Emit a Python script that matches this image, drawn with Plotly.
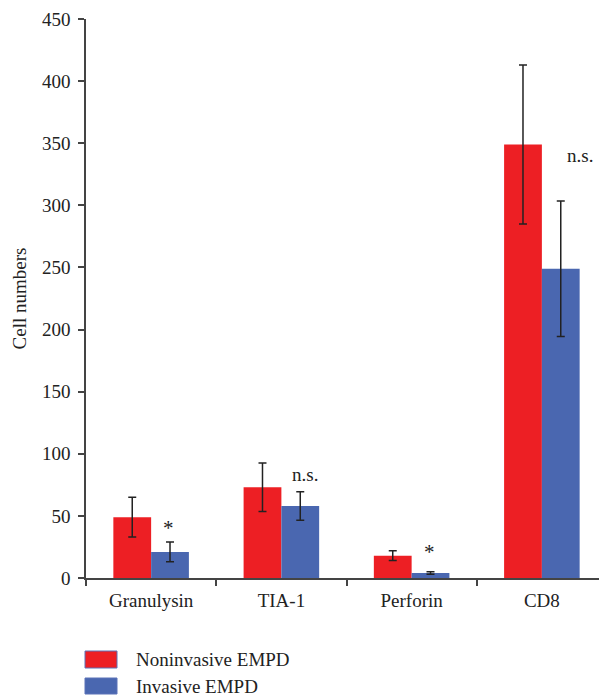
import plotly.graph_objects as go

categories = ["Granulysin", "TIA-1", "Perforin", "CD8"]
noninvasive = [49, 73, 18, 349]
noninvasive_err = [16, 19.5, 4, 64]
invasive = [21, 58, 4, 249]
invasive_err = [8, 11.5, 1, 54.5]
significance = ["*", "n.s.", "*", "n.s."]
sig_y = [40, 83, 21, 340]
series_names = ["Noninvasive EMPD", "Invasive EMPD"]
colors = ["#ED1F24", "#4A67B0"]

sig_xshift = [17, 24, 18, 38]  # label offsets in pixels (style)

OFF = 8  # page body margin in the browser
W, H = 607 - OFF, 696 - OFF
L, R, T, B = 86 - OFF, 0, 19 - OFF, 118
pw, ph = W - L - R, H - T - B
FONT = "Liberation Serif"
fs = 19

fig = go.Figure()
for name, vals, errs, col in [(series_names[0], noninvasive, noninvasive_err, colors[0]),
                              (series_names[1], invasive, invasive_err, colors[1])]:
    fig.add_trace(go.Bar(
        x=categories, y=vals, name=name, marker=dict(color=col, line=dict(width=0)),
        error_y=dict(type="data", array=errs, visible=True, color="#222222", thickness=1.5, width=4),
        showlegend=False,
    ))

for c, s, yv, xs in zip(categories, significance, sig_y, sig_xshift):
    fig.add_annotation(x=c, y=yv, text=s, showarrow=False, xshift=xs,
                       font=dict(family=FONT, size=fs + (2 if s == "*" else 0), color="#222222"))

# legend drawn as swatches + text (pixel positions relative to the reference page)
def px_x(px):
    return (px - OFF - L) / pw

def px_y(py):
    return (H - B - (py - OFF)) / ph

legend_rows = [(651, 668), (678, 694)]
for (y0, y1), name, col in zip(legend_rows, series_names, colors):
    fig.add_shape(type="rect", xref="paper", yref="paper",
                  x0=px_x(85), x1=px_x(117), y0=px_y(y1), y1=px_y(y0),
                  fillcolor=col, line=dict(color="#5A72B8", width=1))
    fig.add_annotation(xref="paper", yref="paper", x=px_x(134), y=px_y((y0 + y1) / 2),
                       text=name, showarrow=False, xanchor="left", yanchor="middle",
                       font=dict(family=FONT, size=fs, color="#222222"))

fig.update_layout(
    width=W, height=H,
    margin=dict(l=L, r=R, t=T, b=B, autoexpand=False),
    paper_bgcolor="white", plot_bgcolor="white",
    barmode="group", bargap=0.42, bargroupgap=0,
    font=dict(family=FONT, size=fs, color="#222222"),
)
fig.update_xaxes(showline=True, linecolor="#444444", linewidth=1.5,
                 ticks="outside", tickson="boundaries", ticklen=6, tickcolor="#444444",
                 tickwidth=1.5, showgrid=False, tickfont=dict(family=FONT, size=fs),
                 ticklabelstandoff=4)
fig.update_yaxes(range=[0, 450], dtick=50, showline=True, linecolor="#444444", linewidth=1.5,
                 ticks="outside", ticklen=6, tickcolor="#444444", tickwidth=1.5,
                 showgrid=False, zeroline=False, tickfont=dict(family=FONT, size=fs),
                 ticklabelstandoff=4,
                 title=dict(text="Cell numbers", font=dict(family=FONT, size=fs), standoff=10))

fig.write_html("out.html")
